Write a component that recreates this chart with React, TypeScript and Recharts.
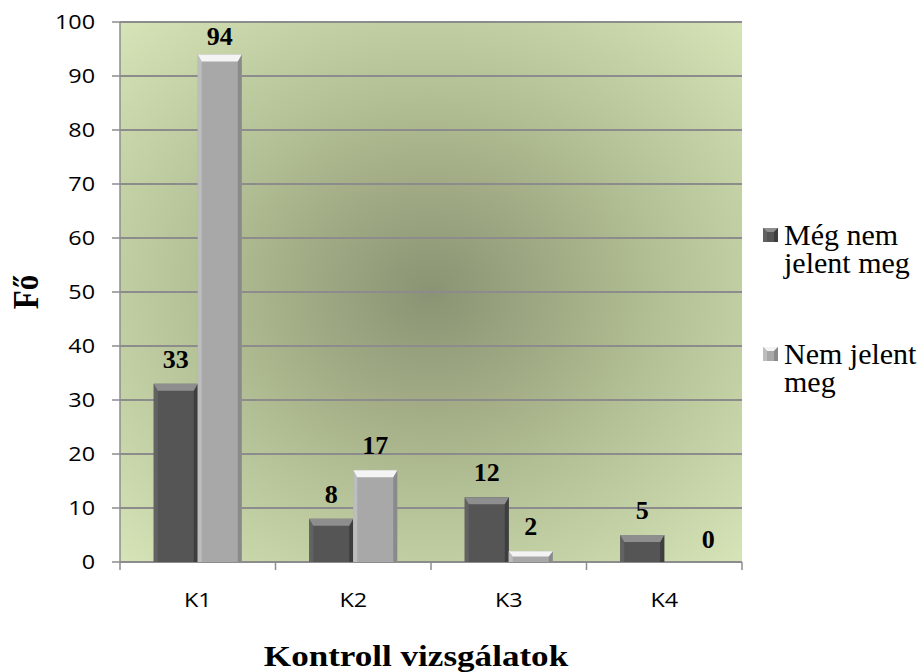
import { BarChart, Bar, XAxis, YAxis, CartesianGrid, LabelList } from 'recharts';

const categories = ['K1', 'K2', 'K3', 'K4'];
const megNemValues = [33, 8, 12, 5];
const nemJelentValues = [94, 17, 2, 0];
const yTicks = [0, 10, 20, 30, 40, 50, 60, 70, 80, 90, 100];
const legendLines = [
  ['Még nem', 'jelent meg'],
  ['Nem jelent', 'meg'],
];

const data = categories.map((name, i) => ({
  name,
  megNem: megNemValues[i],
  nemJelent: nemJelentValues[i],
}));

const SERIF = "'Liberation Serif', 'Times New Roman', serif";
const SANS = "'Open Sans', 'Noto Sans', sans-serif";
const GRID = '#8c8c8c';
// the original picture is a bit stretched horizontally
const STRETCH = 1.17;

const palettes = {
  dark: { main: '#555555', top: '#8e8e8e', left: '#626262', right: '#3e3e3e' },
  light: { main: '#a8a8a8', top: '#f4f4f4', left: '#bdbdbd', right: '#8a8a8a' },
};
const legendPalettes = [palettes.dark, palettes.light];

function bevelShape(p: typeof palettes.dark) {
  return (props: any) => {
    const { x, y, width, height } = props;
    if (!height || height <= 0) return <g />;
    const b = Math.min(7, height / 2, width / 4);
    const s = Math.min(4, width / 6);
    return (
      <g>
        <rect x={x} y={y} width={width} height={height} fill={p.main} />
        <polygon points={`${x},${y} ${x + s},${y + b} ${x + s},${y + height} ${x},${y + height}`} fill={p.left} />
        <polygon points={`${x + width},${y} ${x + width - s},${y + b} ${x + width - s},${y + height} ${x + width},${y + height}`} fill={p.right} />
        <polygon points={`${x},${y} ${x + width},${y} ${x + width - s},${y + b} ${x + s},${y + b}`} fill={p.top} />
      </g>
    );
  };
}

function ValueLabel(props: any) {
  const { x, y, width, value } = props;
  const cx = value === 0 ? x + width : x + width / 2;
  const baseline = value === 0 ? y - 14 : Math.max(y - 16, 45);
  return (
    <text x={cx} y={baseline} textAnchor="middle" fontFamily={SERIF} fontWeight="bold" fontSize={26} fill="#000">
      {value}
    </text>
  );
}

function CategoryTick(props: any) {
  const { x, y, payload, index } = props;
  const off = payload && payload.offset ? payload.offset : 0;
  return (
    <g>
      <line x1={x - off} y1={y} x2={x - off} y2={y + 8} stroke={GRID} strokeWidth={1.5} />
      {index === categories.length - 1 && (
        <line x1={x + off} y1={y} x2={x + off} y2={y + 8} stroke={GRID} strokeWidth={1.5} />
      )}
      <text transform={`translate(${x} ${y + 45}) scale(${STRETCH} 1)`} textAnchor="middle" fontFamily={SANS} fontSize={20} fill="#000">
        {payload.value}
      </text>
    </g>
  );
}

function ValueTick(props: any) {
  const { x, y, payload } = props;
  return (
    <text transform={`translate(${x} ${y}) scale(${STRETCH} 1)`} dy="0.355em" textAnchor="end" fontFamily={SANS} fontSize={20} fill="#000">
      {payload.value}
    </text>
  );
}

// jelmagyarázat
function ChartLegend() {
  const left = 763;
  const tops = [228, 347];
  return (
    <g>
      {legendLines.map((lines, i) => {
        const p = legendPalettes[i];
        const t = tops[i];
        return (
          <g key={i}>
            <rect x={left} y={t} width={15} height={14} fill={p.main} />
            <polygon points={`${left},${t} ${left + 15},${t} ${left + 11},${t + 4} ${left + 4},${t + 4}`} fill={p.top} />
            <polygon points={`${left},${t} ${left + 4},${t + 4} ${left + 4},${t + 14} ${left},${t + 14}`} fill={p.left} />
            <polygon points={`${left + 15},${t} ${left + 11},${t + 4} ${left + 11},${t + 14} ${left + 15},${t + 14}`} fill={p.right} />
            {lines.map((line, j) => (
              <text key={j} x={left + 21} y={t + 17 + j * 28} fontFamily={SERIF} fontSize={30} fill="#000">
                {line}
              </text>
            ))}
          </g>
        );
      })}
    </g>
  );
}

export default function App() {
  return (
    <div style={{ position: 'absolute', left: 0, top: 0, width: 921, height: 672, background: '#fff' }}>
      <BarChart
        width={921}
        height={672}
        data={data}
        margin={{ top: 22, right: 179, left: 0, bottom: 0 }}
        barCategoryGap="21.7%"
        barGap={0}
      >
        <defs>
          <radialGradient id="plotBg" cx="50%" cy="50%" r="72%">
            <stop offset="0%" stopColor="#8a9373" />
            <stop offset="50%" stopColor="#b2be93" />
            <stop offset="100%" stopColor="#d8e5b9" />
          </radialGradient>
        </defs>
        <CartesianGrid vertical={false} stroke={GRID} strokeWidth={2} fill="url(#plotBg)" fillOpacity={1} />
        <XAxis
          dataKey="name"
          height={110}
          axisLine={false}
          tickLine={false}
          tickSize={0}
          tickMargin={0}
          tick={<CategoryTick />}
          interval={0}
          label={(lp: any) => {
            const vb = lp.viewBox;
            const cx = vb.x + vb.width / 2 - 15;
            const cy = vb.y + 104;
            return (
              <text transform={`translate(${cx} ${cy}) scale(${STRETCH} 1)`} textAnchor="middle" fontFamily={SERIF} fontWeight="bold" fontSize={30} fill="#000">
                Kontroll vizsgálatok
              </text>
            );
          }}
        />
        <YAxis
          width={120}
          domain={[0, 100]}
          ticks={yTicks}
          interval={0}
          axisLine={{ stroke: GRID, strokeWidth: 1.5 }}
          tickLine={{ stroke: GRID, strokeWidth: 1.5 }}
          tickSize={8}
          tickMargin={17}
          tick={<ValueTick />}
          label={(lp: any) => {
            const vb = lp.viewBox;
            const cx = 26;
            const cy = vb.y + vb.height / 2;
            return (
              <text transform={`translate(${cx} ${cy}) scale(${STRETCH} 1) rotate(-90)`} textAnchor="middle" dominantBaseline="central" fontFamily={SERIF} fontWeight="bold" fontSize={31} fill="#000">
                Fő
              </text>
            );
          }}
        />
        <Bar dataKey="megNem" name={legendLines[0].join(' ')} fill={palettes.dark.main} shape={bevelShape(palettes.dark)} isAnimationActive={false}>
          <LabelList dataKey="megNem" content={<ValueLabel />} />
        </Bar>
        <Bar dataKey="nemJelent" name={legendLines[1].join(' ')} fill={palettes.light.main} shape={bevelShape(palettes.light)} isAnimationActive={false}>
          <LabelList dataKey="nemJelent" content={<ValueLabel />} />
        </Bar>
        <ChartLegend />
      </BarChart>
    </div>
  );
}
